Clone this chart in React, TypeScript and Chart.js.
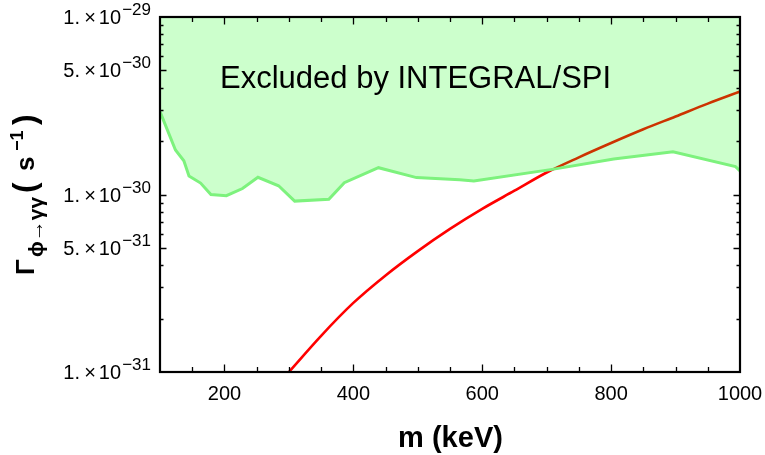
import React, { useEffect, useRef } from "react";
import { Chart, registerables } from "chart.js";

Chart.register(...registerables);

// INTEGRAL/SPI exclusion boundary (keV, s^-1)
const limitMass = [100, 124, 137, 145, 163, 179, 203, 228, 252, 284, 309, 362, 386, 439, 498, 565, 587, 711, 804, 896, 993, 1000];
const limitRate = [2.93e-30, 1.78e-30, 1.55e-30, 1.27e-30, 1.16e-30, 1.0e-30, 0.984e-30, 1.08e-30, 1.25e-30, 1.12e-30, 0.918e-30, 0.94e-30, 1.166e-30, 1.416e-30, 1.245e-30, 1.21e-30, 1.19e-30, 1.39e-30, 1.585e-30, 1.74e-30, 1.435e-30, 1.36e-30];

// predicted decay rate (red curve)
const decayMass = [300, 350, 400, 450, 500, 550, 600, 650, 700, 750, 800, 850, 900, 950, 1000];
const decayRate = [1.0e-31, 1.6e-31, 2.45e-31, 3.5e-31, 4.8e-31, 6.4e-31, 8.3e-31, 1.05e-30, 1.33e-30, 1.62e-30, 1.95e-30, 2.33e-30, 2.75e-30, 3.25e-30, 3.8e-30];

// axes
const xMin = 100;
const xMax = 1000;
const yMin = 1e-31;
const yMax = 1e-29;
const xTickValues = [200, 400, 600, 800, 1000];
const xTickLabels = ["200", "400", "600", "800", "1000"];
const yTickValues = [1e-31, 5e-31, 1e-30, 5e-30, 1e-29];
const yTickMantissa = ["1.", "5.", "1.", "5.", "1."];
const yTickExponent = ["\u221231", "\u221231", "\u221230", "\u221230", "\u221229"];

const regionLabel = "Excluded by INTEGRAL/SPI";
const FONT = '"Liberation Sans", Arial, sans-serif';

const decorPlugin = {
  id: "decor",
  afterDatasetsDraw(chart: any) {
    const { ctx, chartArea: a } = chart;
    ctx.save();
    ctx.fillStyle = "#000";
    ctx.font = `31px ${FONT}`;
    ctx.textAlign = "left";
    ctx.textBaseline = "alphabetic";
    ctx.fillText(regionLabel, a.left + 60, 88);
    ctx.restore();
  },
  afterDraw(chart: any) {
    const { ctx, chartArea: a, scales } = chart;
    const x = scales.x;
    const y = scales.y;
    ctx.save();
    ctx.strokeStyle = "#000";
    // ticks
    ctx.lineWidth = 1.3;
    ctx.beginPath();
    for (let v = 150; v < xMax; v += 50) {
      const px = Math.round(x.getPixelForValue(v)) + 0.5;
      const major = v % 200 === 0;
      const len = major ? 7.5 : 5;
      ctx.moveTo(px, a.bottom);
      ctx.lineTo(px, a.bottom - len);
      ctx.moveTo(px, a.top);
      ctx.lineTo(px, a.top + len);
    }
    for (let d = -31; d < -29; d++) {
      for (let k = 1; k <= 9; k++) {
        if (k === 1 && d === -31) continue;
        const v = k * Math.pow(10, d);
        const py = Math.round(y.getPixelForValue(v)) + 0.5;
        const major = k === 1 || k === 5;
        const len = major ? 6.5 : 3.5;
        ctx.moveTo(a.left, py);
        ctx.lineTo(a.left + len, py);
        ctx.moveTo(a.right, py);
        ctx.lineTo(a.right - len, py);
      }
    }
    ctx.stroke();
    // frame
    ctx.lineWidth = 2.2;
    ctx.strokeRect(a.left, a.top, a.right - a.left, a.bottom - a.top);

    // x tick labels
    ctx.fillStyle = "#000";
    ctx.font = `20px ${FONT}`;
    ctx.textAlign = "center";
    ctx.textBaseline = "alphabetic";
    xTickValues.forEach((v, i) => {
      ctx.fillText(xTickLabels[i], x.getPixelForValue(v), a.bottom + 27.5);
    });

    // y tick labels
    yTickValues.forEach((v, i) => {
      const py = y.getPixelForValue(v);
      ctx.textAlign = "right";
      ctx.font = `17px ${FONT}`;
      ctx.fillText(yTickExponent[i], 151, py - 2);
      ctx.font = `20px ${FONT}`;
      ctx.fillText("10", 121, py + 7);
      ctx.fillText("\u00d7", 96, py + 7);
      ctx.fillText(yTickMantissa[i], 80, py + 7);
    });

    // x title
    ctx.font = `bold 29px ${FONT}`;
    ctx.textAlign = "center";
    ctx.fillText("m (keV)", (a.left + a.right) / 2 + 0.5, 447);

    // y title (rotated, reading upward)
    ctx.translate(34, 275);
    ctx.rotate(-Math.PI / 2);
    ctx.textAlign = "left";
    ctx.font = `bold 26px ${FONT}`;
    ctx.fillText("\u0393", 0, 0);
    ctx.font = `bold 21px ${FONT}`;
    ctx.fillText("\u03d5\u2192\u03b3\u03b3", 18, 9);
    ctx.font = `bold 32px ${FONT}`;
    ctx.fillText("(", 82, 1);
    ctx.font = `bold 26px ${FONT}`;
    ctx.fillText("s", 104, 0);
    ctx.font = `bold 18px ${FONT}`;
    ctx.fillText("\u22121", 124, -11);
    ctx.font = `bold 32px ${FONT}`;
    ctx.fillText(")", 150, 1);
    ctx.restore();
  },
};

export default function App() {
  const canvasRef = useRef<HTMLCanvasElement>(null);

  useEffect(() => {
    const canvas = canvasRef.current;
    if (!canvas) return;
    const chart = new Chart(canvas, {
      type: "line",
      data: {
        datasets: [
          {
            label: "INTEGRAL/SPI",
            data: limitMass.map((m, i) => ({ x: m, y: limitRate[i] })),
            borderColor: "rgb(125,242,125)",
            borderWidth: 3,
            backgroundColor: "rgba(0,255,0,0.2)",
            fill: "end",
            pointRadius: 0,
            tension: 0,
          },
          {
            label: "decay rate",
            data: decayMass.map((m, i) => ({ x: m, y: decayRate[i] })),
            borderColor: "#ff0000",
            borderWidth: 2.6,
            fill: false,
            pointRadius: 0,
            cubicInterpolationMode: "monotone",
          },
        ],
      },
      options: {
        animation: false,
        responsive: false,
        devicePixelRatio: 1,
        layout: { padding: { left: 160, top: 17, right: 25, bottom: 83 } },
        plugins: { legend: { display: false }, tooltip: { enabled: false } },
        scales: {
          x: { type: "linear", min: xMin, max: xMax, display: false },
          y: { type: "logarithmic", min: yMin, max: yMax, display: false },
        },
      },
      plugins: [decorPlugin],
    });
    return () => chart.destroy();
  }, []);

  return (
    <div style={{ position: "absolute", left: 0, top: 0, width: 765, height: 455, background: "#fff" }}>
      <canvas ref={canvasRef} width={765} height={455} style={{ display: "block" }} />
    </div>
  );
}
